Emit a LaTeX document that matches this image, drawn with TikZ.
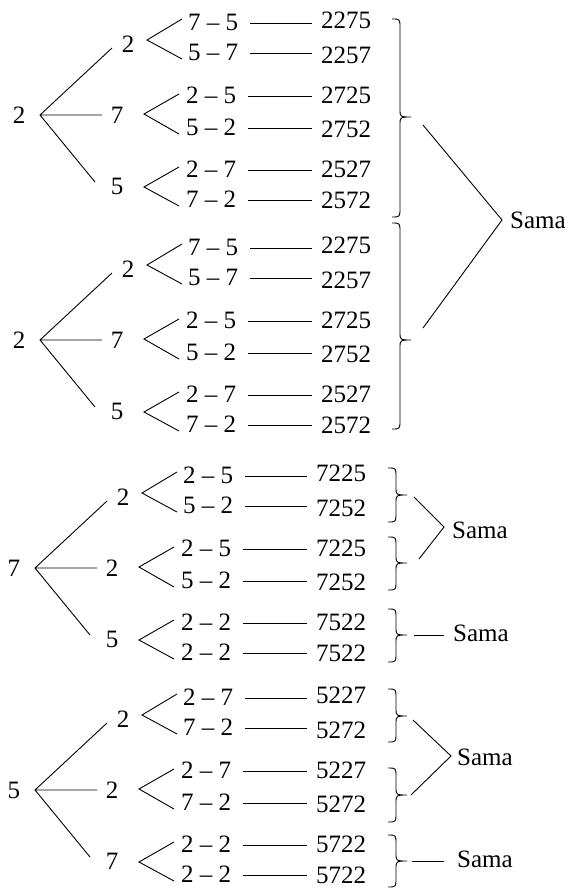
\documentclass[tikz,border=0pt]{standalone}
\usepackage{fontspec}
\setmainfont{Liberation Serif}
\tikzset{
  txt/.style={font=\fontsize{25}{30}\selectfont, inner sep=0pt, text height=17pt, text depth=0pt},
  ln/.style={line width=0.9pt, black},
}
% right-facing brace: #1 hook x, #2 top y, #3 tip y, #4 bottom y
\newcommand{\mybrace}[4]{%
  \draw[ln] (#1,#2) .. controls ({#1+8},#2) .. ({#1+8},{#2+9})
    -- ({#1+8},{#3-8}) .. controls ({#1+8},#3) .. ({#1+19},#3)
    .. controls ({#1+8},#3) .. ({#1+8},{#3+8})
    -- ({#1+8},{#4-9}) .. controls ({#1+8},#4) .. (#1,#4);}
% tree block: #1 prefix, #2 dx, #3 root y, #4 root, #5-#7 level 2, #8 rows label/number
\newcommand{\treeblock}[8]{%
\begin{scope}[shift={(#2,#3)}]
  \node[txt] (#1-r) at (14,0) {#4};
  \coordinate (#1-v) at (35,0);
  \node[txt] (#1-A) at (123,-71) {#5};
  \node[txt] (#1-B) at (112,0) {#6};
  \node[txt] (#1-C) at (112,71) {#7};
  \coordinate (#1-eA) at (107,-67);
  \coordinate (#1-eB) at (97,0);
  \coordinate (#1-eC) at (90,67);
  \draw[ln] (#1-eA) -- (#1-v) -- (#1-eC) (#1-v) -- (#1-eB);
  \coordinate (#1-fA) at (142,-75);
  \coordinate (#1-fA1) at (177,-96);
  \coordinate (#1-fA2) at (177,-56);
  \coordinate (#1-fB) at (139,-1);
  \coordinate (#1-fB1) at (174,-21);
  \coordinate (#1-fB2) at (174,19);
  \coordinate (#1-fC) at (139,72);
  \coordinate (#1-fC1) at (174,52);
  \coordinate (#1-fC2) at (174,91);
  \draw[ln] (#1-fA1) -- (#1-fA) -- (#1-fA2);
  \draw[ln] (#1-fB1) -- (#1-fB) -- (#1-fB2);
  \draw[ln] (#1-fC1) -- (#1-fC) -- (#1-fC2);
  \foreach \lab/\num [count=\i] in {#8} {
    \pgfmathsetmacro\ly{{-93,-63,-20,12,54,84}[\i-1]}
    \pgfmathsetmacro\ny{{-95,-60,-20,14,54,85}[\i-1]}
    \pgfmathsetmacro\lx{{183,183,181,181,181,181}[\i-1]}
    \node[txt,anchor=west] (#1-l\i) at (\lx,\ly) {\lab};
    \node[txt,anchor=west] (#1-n\i) at (316,\ny) {\num};
    \coordinate (#1-s\i) at ([yshift=-1.5pt]#1-l\i.east);
    \draw[ln,shorten <=12pt,shorten >=9pt] (#1-s\i) -- (#1-s\i -| #1-n\i.west);
  }
\end{scope}}
\begin{document}
\begin{tikzpicture}[x=1pt,y=-1pt]
  \useasboundingbox (0,0) rectangle (577,889);
  \treeblock{a}{5}{115}{2}{2}{7}{5}{7 – 5/2275, 5 – 7/2257, 2 – 5/2725, 5 – 2/2752, 2 – 7/2527, 7 – 2/2572}
  \treeblock{b}{5}{340}{2}{2}{7}{5}{7 – 5/2275, 5 – 7/2257, 2 – 5/2725, 5 – 2/2752, 2 – 7/2527, 7 – 2/2572}
  \treeblock{c}{0}{568}{7}{2}{2}{5}{2 – 5/7225, 5 – 2/7252, 2 – 5/7225, 5 – 2/7252, 2 – 2/7522, 2 – 2/7522}
  \treeblock{d}{0}{790}{5}{2}{2}{7}{2 – 7/5227, 7 – 2/5272, 2 – 7/5227, 7 – 2/5272, 2 – 2/5722, 2 – 2/5722}
  % braces
  \mybrace{392}{19}{117}{217}
  \mybrace{392}{223}{340}{429}
  \mybrace{388}{468}{495}{522}
  \mybrace{388}{537}{563}{590}
  \mybrace{388}{609}{635}{662}
  \mybrace{388}{689}{716}{742}
  \mybrace{388}{768}{795}{822}
  \mybrace{388}{835}{861}{887}
  % Sama 1
  \node[txt,anchor=west] (s1) at (510,220) {Sama};
  \coordinate (s1a) at (423,125);
  \coordinate (s1b) at (423,328);
  \coordinate (s1v) at (502,220);
  \draw[ln] (s1a) -- (s1v) -- (s1b);
  % Sama 2
  \node[txt,anchor=west] (s2) at (452,530) {Sama};
  \coordinate (s2a) at (414,497);
  \coordinate (s2b) at (419,559);
  \coordinate (s2v) at (444,527);
  \draw[ln] (s2a) -- (s2v) -- (s2b);
  % Sama 3
  \node[txt,anchor=west] (s3) at (453,633) {Sama};
  \coordinate (s3a) at (414,635);
  \draw[ln,shorten >=9pt] (s3a) -- (s3a -| s3.west);
  % Sama 4
  \node[txt,anchor=west] (s4) at (457,757) {Sama};
  \coordinate (s4a) at (413,720);
  \coordinate (s4b) at (411,795);
  \coordinate (s4v) at (451,756);
  \draw[ln] (s4a) -- (s4v) -- (s4b);
  % Sama 5
  \node[txt,anchor=west] (s5) at (457,859) {Sama};
  \coordinate (s5a) at (412,861);
  \draw[ln,shorten >=13pt] (s5a) -- (s5a -| s5.west);
\end{tikzpicture}
\end{document}
